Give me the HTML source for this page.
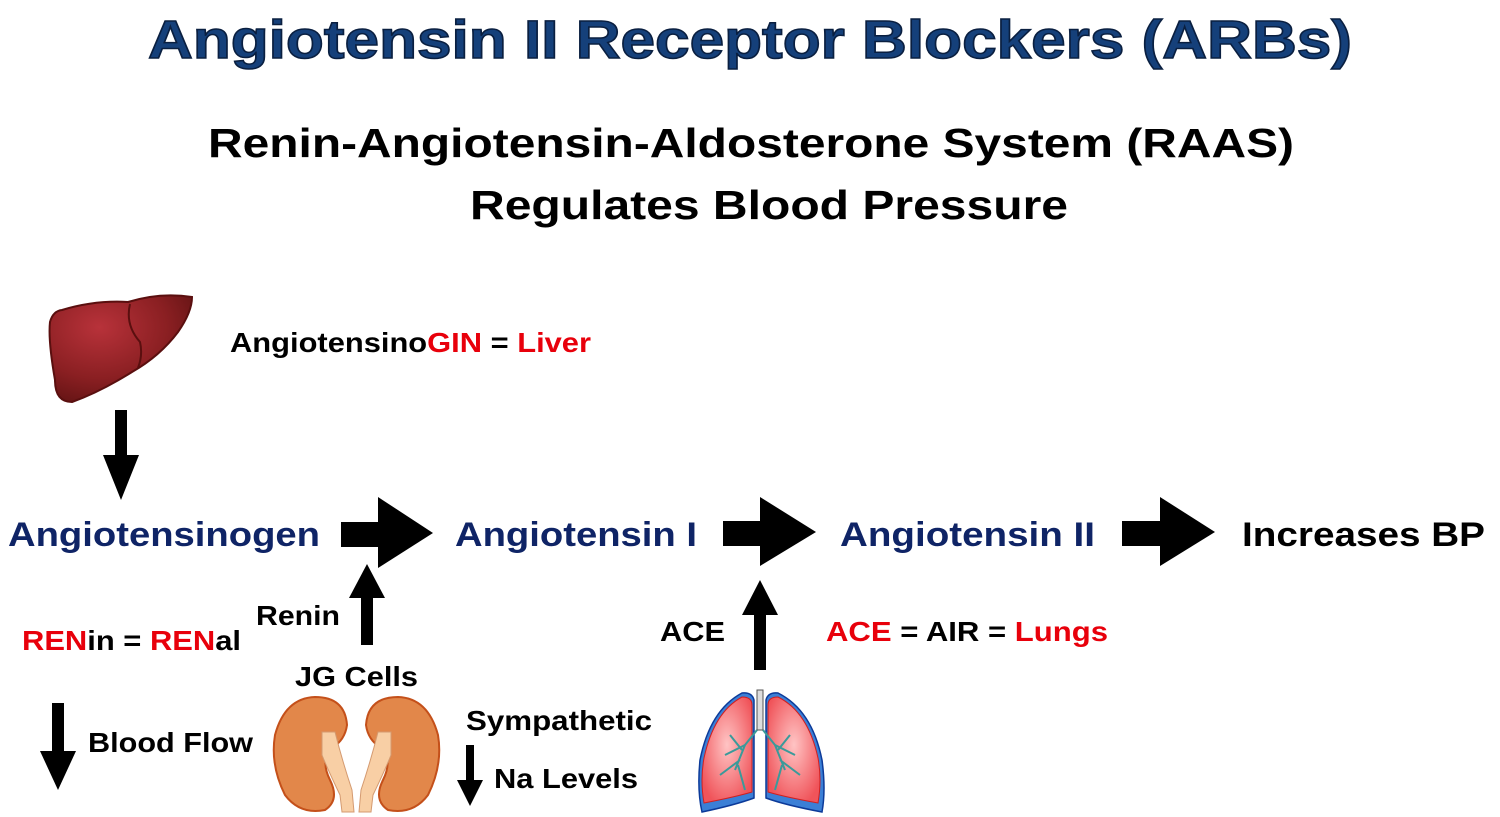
<!DOCTYPE html>
<html><head><meta charset="utf-8"><style>
html,body{margin:0;padding:0;background:#fff;}
svg{display:block;}
text{font-family:"Liberation Sans",Arial,sans-serif;font-weight:bold;}
</style></head><body>
<svg width="1500" height="817" viewBox="0 0 1500 817" xmlns="http://www.w3.org/2000/svg">
<defs>
<radialGradient id="lv" cx="0.35" cy="0.3" r="0.8"><stop offset="0" stop-color="#b8323a"/><stop offset="0.6" stop-color="#8a1f22"/><stop offset="1" stop-color="#5e1212"/></radialGradient>
<radialGradient id="lg" cx="0.5" cy="0.45" r="0.6"><stop offset="0" stop-color="#ffc4c4"/><stop offset="1" stop-color="#f0545a"/></radialGradient>
</defs>
<text x="750" y="58" text-anchor="middle" font-size="54" fill="#15407a" stroke="#0a1f40" stroke-width="1.5" textLength="1204" lengthAdjust="spacingAndGlyphs">Angiotensin II Receptor Blockers (ARBs)</text>
<text x="751" y="157" text-anchor="middle" font-size="41" fill="#000" textLength="1086" lengthAdjust="spacingAndGlyphs">Renin-Angiotensin-Aldosterone System (RAAS)</text>
<text x="769" y="219" text-anchor="middle" font-size="41" fill="#000" textLength="598" lengthAdjust="spacingAndGlyphs">Regulates Blood Pressure</text>

<!-- liver -->
<path d="M62 310 Q95 300 128 302 Q160 292 192 297 Q192 312 178 332 Q160 356 132 372 Q100 392 72 402 Q55 402 55 380 Q48 340 50 322 Q53 311 62 310Z" fill="url(#lv)" stroke="#5a0f0f" stroke-width="2"/>
<path d="M130 304 Q125 325 140 342 Q143 355 138 368" fill="none" stroke="#5a0f0f" stroke-width="2"/>
<text x="230" y="352" font-size="28" textLength="361" lengthAdjust="spacingAndGlyphs"><tspan fill="#000">Angiotensino</tspan><tspan fill="#e8000b">GIN</tspan><tspan fill="#000"> = </tspan><tspan fill="#e8000b">Liver</tspan></text>

<!-- arrows -->
<g fill="#000">
<rect x="115" y="410" width="12" height="46"/><polygon points="103,455 139,455 121,500"/>
<rect x="341" y="522" width="38" height="25"/><polygon points="378,497 378,568 433,533"/>
<rect x="723" y="521" width="38" height="25"/><polygon points="760,497 760,566 816,532"/>
<rect x="1122" y="521" width="39" height="25"/><polygon points="1160,497 1160,566 1215,532"/>
<rect x="361" y="597" width="12" height="48"/><polygon points="349,598 385,598 367,564"/>
<rect x="754" y="614" width="12" height="56"/><polygon points="742,615 778,615 760,580"/>
<rect x="52" y="703" width="12" height="50"/><polygon points="40,751 76,751 58,790"/>
<rect x="466" y="745" width="8" height="36"/><polygon points="457,780 483,780 470,806"/>
</g>

<g font-size="34">
<text x="8" y="546" fill="#0f2466" textLength="312" lengthAdjust="spacingAndGlyphs">Angiotensinogen</text>
<text x="455" y="546" fill="#0f2466" textLength="242" lengthAdjust="spacingAndGlyphs">Angiotensin I</text>
<text x="840" y="546" fill="#0f2466" textLength="255" lengthAdjust="spacingAndGlyphs">Angiotensin II</text>
<text x="1242" y="546" fill="#000" textLength="243" lengthAdjust="spacingAndGlyphs">Increases BP</text>
</g>

<g font-size="28" fill="#000">
<text x="256" y="625" textLength="84" lengthAdjust="spacingAndGlyphs">Renin</text>
<text x="22" y="650" textLength="219" lengthAdjust="spacingAndGlyphs"><tspan fill="#e8000b">REN</tspan>in = <tspan fill="#e8000b">REN</tspan>al</text>
<text x="295" y="686" textLength="123" lengthAdjust="spacingAndGlyphs">JG Cells</text>
<text x="88" y="752" textLength="165" lengthAdjust="spacingAndGlyphs">Blood Flow</text>
<text x="466" y="730" textLength="186" lengthAdjust="spacingAndGlyphs">Sympathetic</text>
<text x="494" y="788" textLength="144" lengthAdjust="spacingAndGlyphs">Na Levels</text>
<text x="660" y="641" textLength="65" lengthAdjust="spacingAndGlyphs">ACE</text>
<text x="826" y="641" textLength="282" lengthAdjust="spacingAndGlyphs"><tspan fill="#e8000b">ACE</tspan> = AIR = <tspan fill="#e8000b">Lungs</tspan></text>
</g>

<!-- kidneys -->
<g stroke="#c4501a" stroke-width="2">
<path d="M315 697 Q345 697 347 725 Q345 740 332 748 Q320 760 330 780 Q340 800 325 810 Q300 815 285 795 Q270 765 275 735 Q285 698 315 697Z" fill="#e2874a"/>
<path d="M398 697 Q368 697 366 725 Q368 740 381 748 Q393 760 383 780 Q373 800 388 810 Q413 815 428 795 Q443 765 438 735 Q428 698 398 697Z" fill="#e2874a"/>
</g>
<path d="M322 732 L335 732 Q342 760 352 790 L354 812 L342 812 L340 795 Q328 770 322 755Z" fill="#f8cfa5" stroke="#d49a70" stroke-width="1"/>
<path d="M391 732 L378 732 Q371 760 361 790 L359 812 L371 812 L373 795 Q385 770 391 755Z" fill="#f8cfa5" stroke="#d49a70" stroke-width="1"/>

<!-- lungs -->
<path d="M742 693 Q752 692 754 700 L754 798 Q735 805 702 812 Q697 790 700 760 Q710 710 742 693Z" fill="#3b7fd6" stroke="#0c3a99" stroke-width="1.5"/>
<path d="M778 693 Q768 692 766 700 L766 798 Q785 805 822 812 Q826 790 822 760 Q812 710 778 693Z" fill="#3b7fd6" stroke="#0c3a99" stroke-width="1.5"/>
<path d="M742 697 Q752 697 752 705 L752 792 Q735 797 704 803 Q700 780 704 758 Q714 712 742 697Z" fill="url(#lg)" stroke="#d02020" stroke-width="1"/>
<path d="M778 697 Q768 697 768 705 L768 792 Q785 797 818 803 Q822 780 818 758 Q808 712 778 697Z" fill="url(#lg)" stroke="#d02020" stroke-width="1"/>
<rect x="757" y="690" width="6" height="40" fill="#ddd" stroke="#555" stroke-width="1"/>
<g stroke="#3a9a9a" stroke-width="2" fill="none">
<path d="M757 730 L745 745 L735 770 M745 745 L725 755 M740 760 L720 775 M738 765 L745 790 M742 750 L730 735"/>
<path d="M763 730 L775 745 L785 770 M775 745 L795 755 M780 760 L800 775 M782 765 L775 790 M778 750 L790 735"/>
</g>
</svg>
</body></html>
